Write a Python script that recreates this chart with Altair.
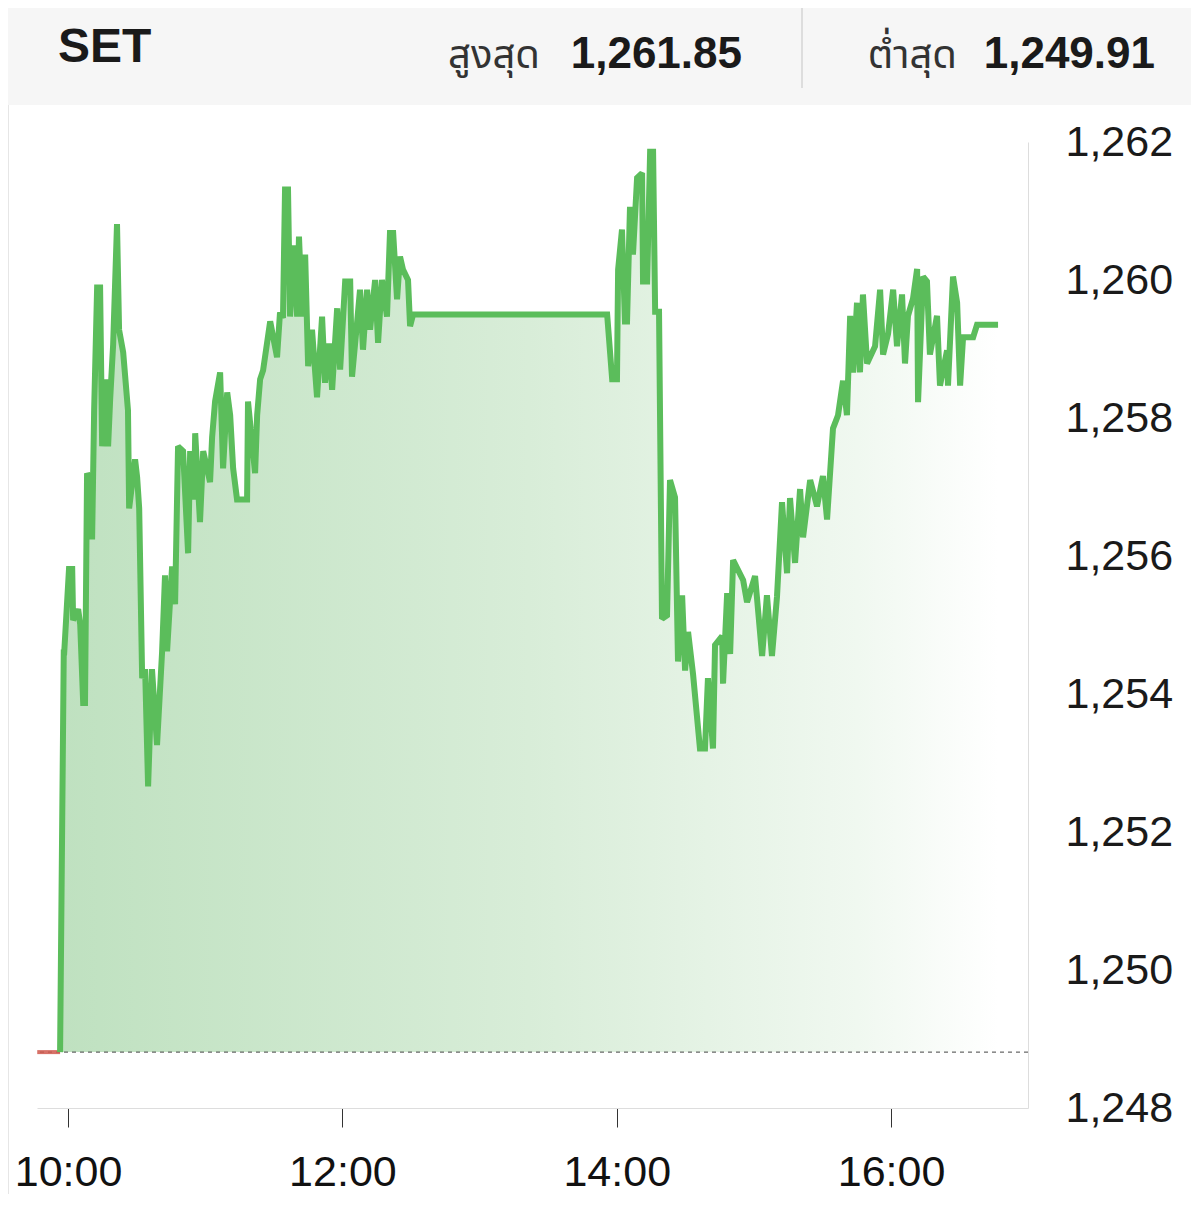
import altair as alt
import pandas as pd

# ---- data (minutes after 10:00, index value) ----
minutes_after_10 = [
    -3.5, -1.9, -1.7, 0.4, 1.8, 2.2, 4.4, 5.3, 6.6, 7.4, 8.3, 9.6, 10.5, 11.4, 12.7, 14.0,
    14.9, 17.1, 17.5, 18.4, 19.7, 21.4, 22.3, 24.1, 26.2, 26.7, 29.3, 30.2, 31.1, 32.4,
    33.7, 35.0, 36.7, 38.9, 41.1, 42.4, 43.3, 45.5, 46.8, 48.1, 50.3, 52.5, 53.4, 55.1,
    55.6, 57.7, 59.1, 62.1, 63.0, 64.3, 66.5, 67.8, 69.6, 70.9, 72.2, 73.9, 78.3, 78.7,
    81.8, 82.7, 84.0, 85.3, 88.4, 91.4, 92.7, 94.0, 94.9, 96.2, 97.1, 98.4, 100.2, 101.0,
    102.4, 103.7, 105.0, 106.7, 108.9, 111.1, 112.4, 114.2, 115.5, 117.7, 119.0, 121.2,
    123.4, 124.2, 126.4, 127.7, 129.0, 130.8, 132.1, 134.3, 135.6, 137.3, 139.5, 140.8,
    142.2, 143.9, 145.2, 146.5, 148.7, 149.6, 150.9, 235.8, 238.0, 240.1, 240.6, 242.3,
    243.6, 244.5, 245.8, 247.1, 248.9, 251.1, 251.5, 253.3, 254.6, 255.9, 256.8, 258.5,
    259.8, 262.0, 263.3, 265.5, 266.8, 268.6, 269.9, 271.2, 273.4, 276.4, 278.6, 279.9,
    282.1, 283.0, 286.1, 286.5, 288.3, 289.6, 290.9, 295.3, 297.0, 300.5, 303.6, 305.7,
    307.9, 310.1, 312.3, 314.5, 315.8, 318.0, 320.2, 321.5, 324.6, 327.6, 330.2, 332.0,
    334.6, 336.8, 339.0, 340.7, 342.1, 343.4, 345.1, 346.4, 347.7, 349.5, 353.0, 355.2,
    356.5, 358.7, 360.9, 362.6, 364.8, 366.1, 367.4, 369.6, 371.4, 371.8, 374.0, 375.7,
    377.0, 380.1, 381.4, 384.5, 384.9, 387.1, 388.9, 390.2, 391.5, 395.9, 397.6, 406.8,
]
index_values = [
    1248.81, 1254.60, 1254.60, 1255.81, 1255.81, 1255.07, 1255.23, 1255.01, 1253.87, 1253.87,
    1257.20, 1257.11, 1256.24, 1258.12, 1259.89, 1259.89, 1257.59, 1258.56, 1257.59, 1258.27,
    1259.06, 1260.81, 1259.28, 1258.95, 1258.11, 1256.69, 1257.40, 1257.14, 1256.69, 1254.23,
    1254.36, 1252.66, 1254.36, 1253.26, 1254.60, 1255.72, 1254.62, 1255.85, 1255.30, 1257.59,
    1257.52, 1256.04, 1257.52, 1256.82, 1257.78, 1256.49, 1257.52, 1257.07, 1257.72, 1258.24,
    1258.66, 1257.27, 1258.37, 1258.04, 1257.27, 1256.82, 1256.82, 1258.24, 1257.20, 1258.04,
    1258.56, 1258.69, 1259.40, 1258.88, 1259.53, 1259.45, 1261.31, 1261.31, 1259.47, 1260.50,
    1259.47, 1260.63, 1259.47, 1260.37, 1258.75, 1259.28, 1258.30, 1259.47, 1258.51, 1259.08,
    1258.41, 1259.59, 1258.70, 1259.98, 1259.98, 1258.60, 1259.38, 1259.86, 1258.99, 1259.86,
    1259.28, 1260.00, 1259.09, 1260.00, 1259.47, 1260.68, 1260.68, 1259.72, 1260.34, 1260.15,
    1260.00, 1259.33, 1259.50, 1259.50, 1258.56, 1258.56, 1260.15, 1260.73, 1259.40, 1259.40,
    1261.06, 1260.37, 1261.48, 1261.55, 1259.98, 1259.98, 1261.86, 1261.86, 1259.54, 1259.54,
    1255.09, 1255.14, 1257.10, 1256.85, 1254.47, 1255.43, 1254.34, 1254.90, 1254.28, 1253.21,
    1253.21, 1254.23, 1253.21, 1254.71, 1254.84, 1254.15, 1255.46, 1254.58, 1255.94, 1255.65,
    1255.33, 1255.71, 1254.55, 1255.43, 1254.55, 1255.41, 1256.78, 1255.75, 1256.84, 1255.90,
    1256.97, 1256.27, 1257.10, 1256.72, 1257.16, 1256.53, 1257.85, 1258.04, 1258.54, 1258.04,
    1259.48, 1258.66, 1259.67, 1258.66, 1259.79, 1258.79, 1259.04, 1259.86, 1258.92, 1259.22,
    1259.86, 1259.04, 1259.79, 1258.79, 1259.48, 1259.73, 1260.16, 1258.23, 1260.05, 1259.98,
    1258.92, 1259.48, 1258.47, 1258.98, 1258.47, 1260.05, 1259.67, 1258.47, 1259.17, 1259.17,
    1259.35, 1259.35,
]
prev_close = 1248.81
preopen_minutes = [-13.5, -3.5]
preopen_values = [1248.81, 1248.81]

x_ticks = [600, 720, 840, 960]          # 10:00, 12:00, 14:00, 16:00 (minute of day)
y_ticks = [1248, 1250, 1252, 1254, 1256, 1258, 1260, 1262]
x_domain = [586.4, 1019.9]
y_domain = [1248, 1262]

header_name = "SET"
high_label, high_value = "สูงสุด", "1,261.85"
low_label, low_value = "ต่ำสุด", "1,249.91"

# ---- tables ----
df = pd.DataFrame({
    "t": [600 + m for m in minutes_after_10],
    "v": index_values,
    "base": [prev_close] * len(index_values),
})
df_pre = pd.DataFrame({"t": [600 + m for m in preopen_minutes], "v": preopen_values})
df_base = pd.DataFrame({"v": [prev_close]})

W, H = 991, 966
NUM_FONT = "Liberation Sans, Arial, Helvetica, sans-serif"
THAI_FONT = "Noto Sans Thai, Noto Sans Thai Looped, Noto Sans, Liberation Sans, sans-serif"

xs = alt.Scale(domain=x_domain, nice=False, zero=False)
ys = alt.Scale(domain=y_domain, nice=False, zero=False)

x_axis = alt.Axis(
    values=x_ticks, labelExpr="floor(datum.value/60) + ':00'", title=None,
    grid=False, domain=True, domainColor="#dddddd", domainWidth=1,
    ticks=True, tickColor="#333333", tickSize=19, tickWidth=1,
    labelFontSize=43, labelFont=NUM_FONT, labelColor="#111111",
    labelPadding=24, labelFlush=False, labelOverlap=False,
)
y_axis = alt.Axis(
    values=y_ticks, format=",d", orient="right", title=None,
    grid=False, domain=True, domainColor="#dddddd", domainWidth=1,
    ticks=False, labelPadding=37, labelFontSize=43, labelFont=NUM_FONT,
    labelColor="#1a1a1a", labelFlush=False, labelOverlap=False, labelAlign="left",
)

X = alt.X("t:Q", scale=xs, axis=x_axis)
Y = alt.Y("v:Q", scale=ys, axis=y_axis)

gradient = alt.Gradient(
    gradient="linear", x1=0, y1=0, x2=1, y2=0,
    stops=[
        alt.GradientStop(color="#bfe1c0", offset=0),
        alt.GradientStop(color="#d8edd8", offset=0.5),
        alt.GradientStop(color="#f0f8f0", offset=0.85),
        alt.GradientStop(color="#ffffff", offset=1),
    ],
)

area = alt.Chart(df).mark_area(color=gradient, interpolate="linear").encode(
    x=X, y=Y, y2="base:Q",
)

baseline = alt.Chart(df_base).mark_rule(
    color="#444444", strokeDash=[4, 4], strokeWidth=1
).encode(y=Y)

pre_line = alt.Chart(df_pre).mark_line(color="#d0584c", strokeWidth=4, opacity=0.85).encode(
    x=X, y=Y,
)

line = alt.Chart(df).mark_line(
    color="#5bbd5b", strokeWidth=6, interpolate="linear", strokeJoin="miter", strokeMiterLimit=2
).encode(x=X, y=Y)

# ---- header (page coords -> chart coords: x-37, y-142) ----
one = pd.DataFrame({"k": [0]})
header_bg = alt.Chart(one).mark_rect(color="#f6f6f6").encode(
    x=alt.value(-29), x2=alt.value(1155), y=alt.value(-134), y2=alt.value(-37)
)
sep = alt.Chart(one).mark_rule(color="#dddddd", strokeWidth=2).encode(
    x=alt.value(765), y=alt.value(-134), y2=alt.value(-54)
)
left_border = alt.Chart(one).mark_rule(color="#e6e6e6", strokeWidth=1).encode(
    x=alt.value(-28.5), y=alt.value(-37), y2=alt.value(1054)
)


def txt(s, x, y, size, bold, font, color, align):
    return alt.Chart(one).mark_text(
        text=s, fontSize=size, fontWeight="bold" if bold else "normal", font=font,
        color=color, align=align, baseline="alphabetic",
    ).encode(x=alt.value(x), y=alt.value(y))


header = [
    txt(header_name, 21, -80, 48, True, NUM_FONT, "#1a1a1a", "left"),
    txt(high_label, 503, -74, 40, False, THAI_FONT, "#333333", "right"),
    txt(high_value, 705, -74, 44, True, NUM_FONT, "#1a1a1a", "right"),
    txt(low_label, 920, -74, 40, False, THAI_FONT, "#333333", "right"),
    txt(low_value, 1118, -74, 44, True, NUM_FONT, "#1a1a1a", "right"),
]

chart = alt.layer(
    area, baseline, pre_line, line, header_bg, sep, left_border, *header
).properties(
    width=W, height=H,
    padding={"left": 29, "top": 134, "right": 163, "bottom": 86},
    autosize=alt.AutoSizeParams(type="none"),
    background="white",
).configure_view(strokeWidth=0)

chart.save("out.html", embed_options={"renderer": "svg", "actions": False})
